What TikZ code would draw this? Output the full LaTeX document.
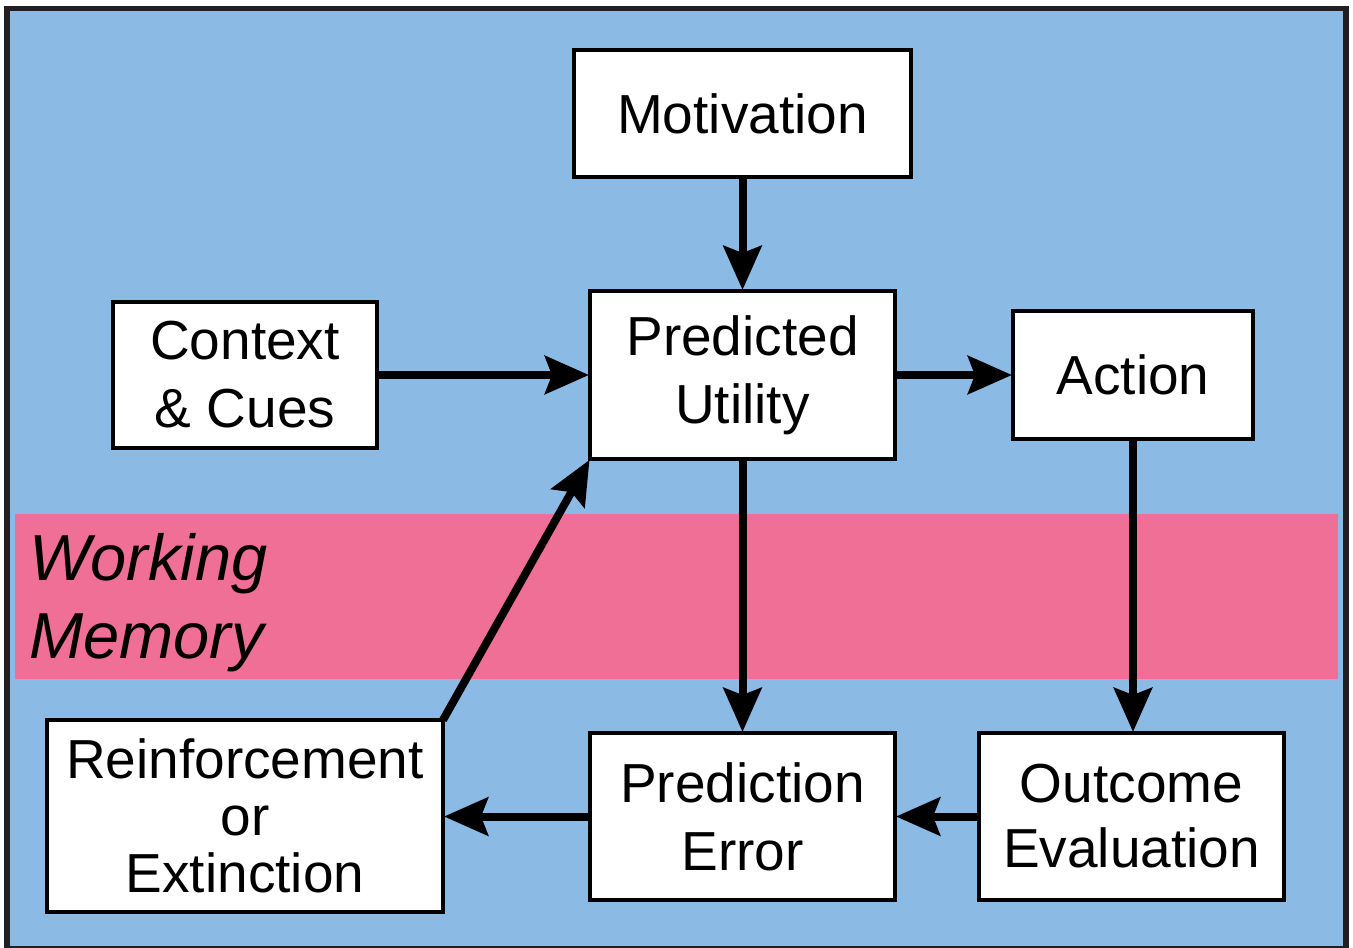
\documentclass[tikz,border=0pt]{standalone}
\usepackage{fontspec}
\setmainfont{Liberation Sans}
\usetikzlibrary{arrows.meta}
\definecolor{bgblue}{RGB}{139,187,229}
\definecolor{wmpink}{RGB}{240,111,150}
\definecolor{framedark}{RGB}{35,31,32}
\tikzset{
  box/.style={draw=black, fill=white, line width=4.5pt, inner sep=0pt, outer sep=0pt,
    font=\fontsize{55pt}{68pt}\selectfont, align=center, anchor=north west},
  flow/.style={line width=8pt, draw=black,
    -{Stealth[length=44pt,width=38pt,inset=7pt]}, shorten >=1pt},
}
\begin{document}
\begin{tikzpicture}[x=1pt,y=-1pt]
\useasboundingbox (0,0) rectangle (1353,948);
% frame and background
\fill[framedark] (4,6) rectangle (1349,948);
\fill[bgblue] (10,11) rectangle (1343,946);
% working memory band
\fill[wmpink] (15,514) rectangle (1338,679);
\node[anchor=north west, align=left, inner sep=0pt,
  font=\fontsize{65pt}{78pt}\selectfont\itshape] (wm) at (29,533)
  {Working\\Memory};
% boxes
\node[box, minimum width=337pt, minimum height=127pt] (mot) at (574,50) {Motivation};
\node[box, minimum width=264pt, minimum height=146pt] (ctx) at (113,302) {Context\\\& Cues};
\node[box, minimum width=305pt, minimum height=168pt] (pu) at (590,291) {Predicted\\Utility};
\node[box, minimum width=240pt, minimum height=128pt] (act) at (1013,311) {Action};
\node[box, minimum width=396pt, minimum height=192pt,
  font=\fontsize{55pt}{57pt}\selectfont] (rein) at (47,720) {Reinforcement\\or\\Extinction};
\node[box, minimum width=305pt, minimum height=167pt] (pe) at (590,733) {Prediction\\Error};
\node[box, minimum width=305pt, minimum height=167pt,
  font=\fontsize{55pt}{65pt}\selectfont] (out) at (979,733) {Outcome\\Evaluation};
% connectors
\draw[flow] (mot.south) -- (pu.north);
\draw[flow] (ctx.east) -- (ctx.east -| pu.west);
\draw[flow] (pu.east |- act.west) -- (act.west);
\draw[flow] (act.south) -- (act.south |- out.north);
\draw[flow] (pu.south) -- (pe.north);
\draw[flow] (out.west) -- (pe.east);
\draw[flow] (pe.west) -- (rein.east |- pe.west);
\draw[flow] (rein.north east) -- (pu.south west);
\end{tikzpicture}
\end{document}
